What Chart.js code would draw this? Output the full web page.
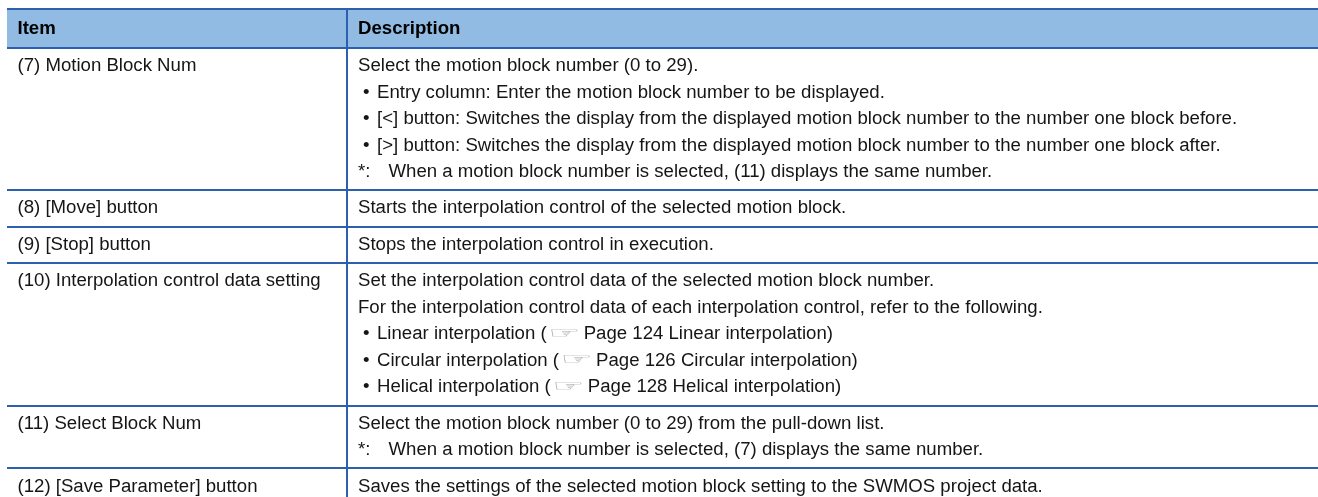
<!DOCTYPE html>
<html><head><meta charset="utf-8">
<style>html,body{margin:0;padding:0;background:#fff}#w{position:relative;width:1318px;height:497px}</style>
<script src="https://cdn.jsdelivr.net/npm/chart.js@4/dist/chart.umd.min.js"></script>
</head><body><div id="w"><canvas id="c" width="1318" height="497"></canvas></div>
<script>
const headers = ["Item", "Description"];
const items = ["(7) Motion Block Num", "(8) [Move] button", "(9) [Stop] button", "(10) Interpolation control data setting", "(11) Select Block Num", "(12) [Save Parameter] button"];
const desc7 = ["Select the motion block number (0 to 29).", "• Entry column: Enter the motion block number to be displayed.", "• [<] button: Switches the display from the displayed motion block number to the number one block before.", "• [>] button: Switches the display from the displayed motion block number to the number one block after.", "*: When a motion block number is selected, (11) displays the same number."];
const desc8 = ["Starts the interpolation control of the selected motion block."];
const desc9 = ["Stops the interpolation control in execution."];
const desc10 = ["Set the interpolation control data of the selected motion block number.", "For the interpolation control data of each interpolation control, refer to the following.", "• Linear interpolation (☞Page 124 Linear interpolation)", "• Circular interpolation (☞Page 126 Circular interpolation)", "• Helical interpolation (☞Page 128 Helical interpolation)"];
const desc11 = ["Select the motion block number (0 to 29) from the pull-down list.", "*: When a motion block number is selected, (7) displays the same number."];
const desc12 = ["Saves the settings of the selected motion block setting to the SWMOS project data."];
const descriptions = [desc7, desc8, desc9, desc10, desc11, desc12];

const LEFT = 7, RIGHT = 1318, TOP = 9, HEAD_BOTTOM = 48, COL = 347, BOTTOM = 497;
const LINE_H = 26.5, PAD = 9.9;
const edges = [TOP, HEAD_BOTTOM];
descriptions.forEach(d => edges.push(edges[edges.length - 1] + d.length * LINE_H + PAD));
edges.pop();

const FONT = '"Liberation Sans", Arial, sans-serif', SIZE = 18.62, INK = '#151515';

const textPlugin = {
  id: 'tableText',
  afterDraw(chart) {
    const { ctx, scales: { x, y } } = chart;
    ctx.save();
    ctx.textBaseline = 'alphabetic';
    ctx.fillStyle = '#000';
    ctx.font = 'bold ' + SIZE + 'px ' + FONT;
    ctx.fillText(headers[0], x.getPixelForValue(LEFT + 10.5), y.getPixelForValue(TOP + 25));
    ctx.fillText(headers[1], x.getPixelForValue(COL + 11), y.getPixelForValue(TOP + 25));
    ctx.font = SIZE + 'px ' + FONT;
    ctx.fillStyle = INK;
    descriptions.forEach((lines, r) => {
      const top = edges[r + 1];
      ctx.fillText(items[r], x.getPixelForValue(LEFT + 10.5), y.getPixelForValue(top + 23));
      lines.forEach((t, i) => {
        const by = y.getPixelForValue(top + 23 + i * LINE_H);
        let px = x.getPixelForValue(COL + 11);
        if (t.startsWith('• ')) {
          ctx.fillText('•', px + 5, by);
          t = t.slice(2);
          px += 19;
        } else if (t.startsWith('*: ')) {
          ctx.fillText('*:', px, by);
          t = t.slice(3);
          px += 30.5;
        }
        const k = t.indexOf('☞');
        if (k < 0) { ctx.fillText(t, px, by); return; }
        const pre = t.slice(0, k), post = t.slice(k + 1);
        ctx.fillText(pre, px, by);
        const base = px + ctx.measureText(pre).width;
        ctx.save();
        ctx.translate(base + 1.5, by - 1.5);
        ctx.scale(2.0, 0.88);
        ctx.font = '18px "DejaVu Sans"';
        ctx.fillStyle = '#a2a2a2';
        ctx.fillText('☞', 0, 0);
        ctx.restore();
        ctx.fillText(post, base + 37, by);
      });
    });
    ctx.restore();
  }
};

new Chart(document.getElementById('c'), {
  type: 'bar',
  data: { datasets: [{
    data: [{ y: (TOP + HEAD_BOTTOM) / 2, x: [LEFT, RIGHT] }],
    backgroundColor: '#91bbe3',
    barThickness: HEAD_BOTTOM - TOP,
    borderWidth: 0
  }]},
  plugins: [textPlugin],
  options: {
    indexAxis: 'y',
    responsive: false,
    animation: false,
    layout: { padding: { left: LEFT, top: TOP - 1, right: 0, bottom: 0 } },
    plugins: { legend: { display: false }, tooltip: { enabled: false }, title: { display: false } },
    scales: {
      x: { type: 'linear', min: LEFT, max: RIGHT, ticks: { display: false },
        border: { display: false },
        afterBuildTicks: a => { a.ticks = [{ value: COL }]; },
        grid: { color: '#2c5fae', lineWidth: 2, drawTicks: false, z: 1, offset: false } },
      y: { type: 'linear', reverse: true, offset: false, min: TOP - 1, max: BOTTOM, ticks: { display: false, autoSkip: false },
        border: { display: false },
        afterBuildTicks: a => { a.ticks = edges.map(v => ({ value: v })); },
        grid: { color: '#2c5fae', lineWidth: 2, drawTicks: false, z: 1, offset: false } }
    }
  }
});
</script></body></html>
